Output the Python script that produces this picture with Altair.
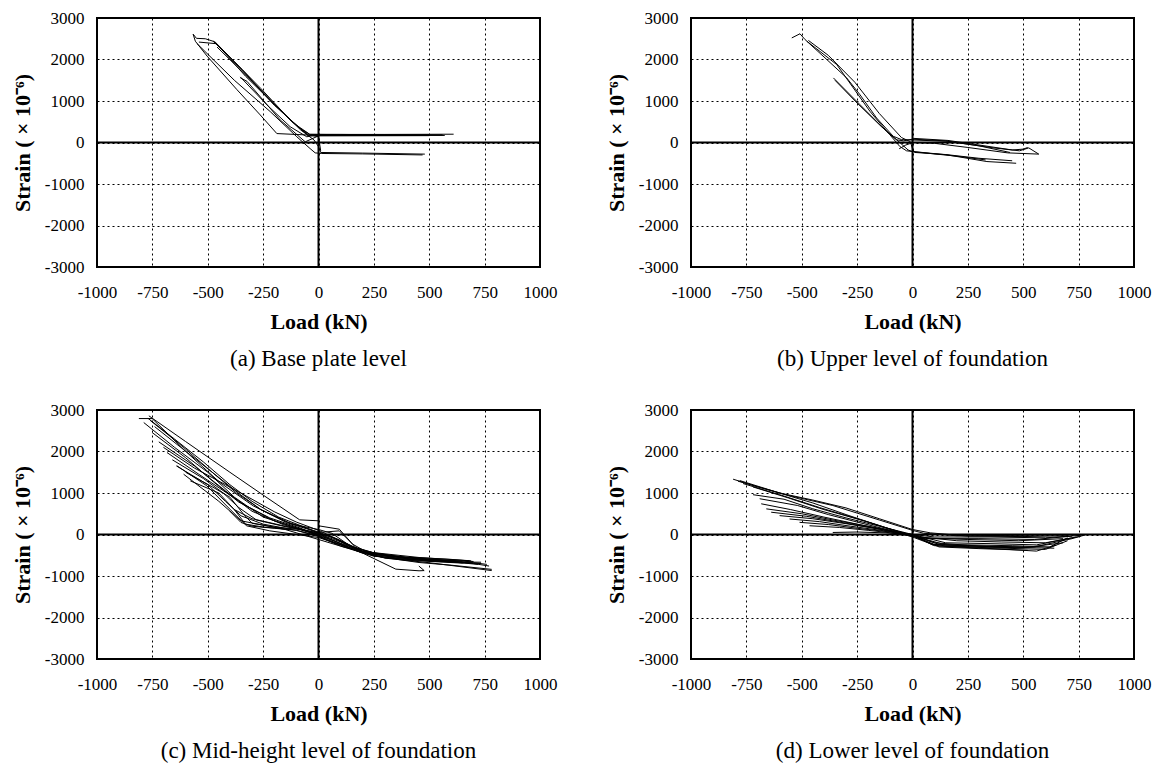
import altair as alt
import pandas as pd

# ---------------- data ----------------
X_TICKS = [-1000, -750, -500, -250, 0, 250, 500, 750, 1000]
Y_TICKS = [-3000, -2000, -1000, 0, 1000, 2000, 3000]

CAPTIONS = ["(a) Base plate level", "(b) Upper level of foundation",
            "(c) Mid-height level of foundation", "(d) Lower level of foundation"]

# Panel (a) Base plate level
A_LOAD = [
    [-566, -551, -511, -476, -428, -345, -248, -158, -83, -38, 100, 300, 500, 610],
    [570, 300, 50, -38, -188, -263, -368, -503, -556, -566],
    [-548, -380, -218, -98, -38, -15, 15, 200, 470],
    [480, 200, 10, 0, -20, -80, -200, -330, -460, -540],
    [-353, -233, -128, -53, -20, 200, 500],
    [500, 0, -60, -173, -323, -353],
    [-458, -293, -143, -50, 0, 10],
    [-470, -380, -260, -120, -40],
    [-476, -400, -300, -200, -100, -40, 200, 560],
]
A_STRAIN = [
    [2610, 2510, 2500, 2440, 2200, 1760, 1190, 705, 340, 190, 195, 195, 198, 200],
    [170, 170, 172, 178, 215, 664, 1272, 2082, 2440, 2610],
    [2380, 1500, 745, 138, -146, -250, -265, -275, -300],
    [-280, -255, -240, -100, 60, 300, 920, 1600, 2380, 2420],
    [1580, 907, 381, 138, 170, 175, 180],
    [165, 160, 16, 543, 1474, 1560],
    [2300, 1434, 624, 180, 140, -200],
    [2440, 1950, 1300, 500, 160],
    [2450, 2050, 1480, 900, 420, 200, 190, 185],
]

# Panel (b) Upper level of foundation
B_LOAD = [
    [-545, -508, -485, -387, -297, -237, -162, -87, -50, 3, 156, 366, 483, 525, 570],
    [-477, -342, -192, -102, -57, -27, 3, 156, 336, 468],
    [450, 300, 150, 10, 0, -10, -50, -150, -260, -380, -470],
    [-357, -237, -117, -72, -40, 0, 150, 300, 440],
    [570, 430, 250, 100, 3, -30, -60],
    [-350, -250, -140, -70, -20, 0, 200, 330],
    [3, 160, 300, 450, 500, 520],
]
B_STRAIN = [
    [2520, 2620, 2480, 2000, 1556, 1150, 590, 150, 70, 60, 30, -130, -200, -130, -280],
    [2440, 1878, 750, 185, -97, -200, -218, -298, -459, -500],
    [-440, -380, -290, -240, -150, 20, 120, 700, 1450, 2100, 2460],
    [1556, 911, 266, 64, 40, 80, 40, -80, -240],
    [-280, -250, -120, -20, 0, -60, -150],
    [1500, 950, 380, 60, -180, -220, -330, -420],
    [100, 50, -60, -180, -160, -120],
]

# Panel (c) Mid-height level of foundation
C_LOAD = [
    [-766, -600, -400, -250, -85, 0, 0, 94, 154, 250, 450, 700],
    [-811, -751, -594, -445, -295, -145, 0, 94, 169, 244, 454, 680],
    [734, 500, 300, 200, 100, 0, -220, -325, -400, -504, -639],
    [-789, -650, -500, -380, -250, -100, 0, 150, 300, 500, 782],
    [782, 600, 454, 244, 100, 0, -150, -350, -450, -609],
    [-751, -600, -470, -360, -220, -80, 40, 200, 349, 454, 477, 453],
    [-721, -560, -420, -300, -160, 0, 120, 244, 400, 650, 686],
    [-684, -540, -400, -330, -200, -60, 60, 200, 420, 600, 734],
    [-642, -500, -420, -350, -250, -100, 0, 100, 250, 500, 700, 770],
    [-579, -450, -380, -300, -150, 0, 80, 200, 400, 620],
    [-700, -560, -420, -300, -200, -100, 0, 100, 180],
    [-760, -620, -480, -350, -260, -120, 0, 60, 150, 350, 560],
    [-400, -350, -300, -200, -100, 0],
    [-380, -330, -250, -120],
    [-770, -650, -520, -400, -300, -180, -50, 50, 150, 300, 500, 700, 760],
    [-740, -610, -480, -370, -260, -140, 0, 120, 220, 400, 650],
    [-660, -520, -430, -360, -280, -160, -40, 60, 140, 260, 520, 720],
    [-600, -480, -400, -340, -300, -200, -80, 20, 100, 200, 380, 600, 690],
]
C_STRAIN = [
    [2860, 2240, 1500, 950, 353, 330, 210, 128, -233, -520, -600, -650],
    [2794, 2794, 1975, 1253, 691, 289, 48, 88, -313, -434, -554, -630],
    [-700, -640, -560, -450, -250, -72, 88, 209, 610, 1172, 1654],
    [2698, 2100, 1500, 900, 420, 160, 0, -330, -570, -680, -869],
    [-840, -740, -675, -514, -280, -120, 120, 330, 800, 1453],
    [2457, 1850, 1250, 780, 400, 150, -120, -450, -835, -875, -869, -760],
    [2232, 1650, 1050, 560, 240, -20, -250, -500, -620, -690, -628],
    [1975, 1450, 950, 700, 330, 100, -180, -430, -600, -660, -668],
    [1654, 1200, 800, 450, 250, 100, -50, -280, -490, -600, -700, -760],
    [1293, 1000, 600, 380, 200, 40, -100, -400, -560, -640],
    [2100, 1600, 1200, 850, 550, 300, 100, -150, -380],
    [2750, 2150, 1500, 950, 600, 250, 120, 30, -300, -580, -650],
    [560, 290, 200, 150, 100, -30],
    [600, 250, 180, 120],
    [2800, 2300, 1750, 1200, 800, 420, 150, -100, -350, -520, -600, -680, -720],
    [2600, 2050, 1500, 1000, 600, 300, 60, -200, -460, -560, -640],
    [1800, 1350, 1000, 650, 350, 200, 80, -60, -280, -470, -620, -720],
    [1500, 1150, 900, 500, 270, 180, 120, -20, -180, -420, -540, -600, -640],
]

# Panel (d) Lower level of foundation
D_LOAD = [
    [-810, -700, -550, -360, -150, 0, 50, 200, 500, 792],
    [-788, -620, -450, -300, -120, 0, 90, 300, 550, 720, 780],
    [-765, -600, -420, -250, -80, 0, 120, 350, 600, 700],
    [-720, -560, -400, -200, -60, 30, 150, 400, 560, 650],
    [-720, -580, -450, -300, -150, 0, 100, 300, 500, 680],
    [-690, -520, -380, -250, -100, 0, 90, 250, 450, 620, 700],
    [-683, -550, -400, -250, -120, 0, 150, 350, 560, 760],
    [-660, -500, -350, -200, -80, 20, 200, 400, 600, 740],
    [-638, -480, -330, -180, -60, 40, 250, 480, 680],
    [-600, -450, -300, -150, -50, 60, 300, 550, 720],
    [-555, -420, -280, -130, 0, 100, 350, 600, 760],
    [-510, -380, -250, -100, 0, 150, 400, 640],
    [-465, -330, -200, -80, 10, 120, 300, 520],
    [-360, -250, -120, 0, 100, 300, 450],
    [-780, -600, -450, -300, -150, 0, 80, 250, 500, 700],
]
D_STRAIN = [
    [1333, 1150, 930, 699, 350, 100, 30, -30, -20, 0],
    [1285, 1030, 760, 480, 160, 0, -250, -280, -300, -100, -10],
    [1228, 960, 650, 380, 100, -40, -280, -320, -360, -150],
    [1146, 880, 600, 300, 60, -80, -290, -350, -400, -250],
    [959, 850, 620, 400, 200, -20, -270, -300, -320, -200],
    [862, 700, 480, 300, 100, -60, -240, -250, -270, -300, -80],
    [740, 600, 420, 250, 100, 0, -200, -220, -250, -40],
    [618, 500, 340, 200, 80, -50, -150, -180, -200, -60],
    [537, 440, 300, 160, 50, -80, -120, -150, -100],
    [455, 380, 260, 130, 30, -100, -100, -120, -40],
    [374, 310, 200, 90, 0, -60, -60, -80, -20],
    [293, 240, 150, 60, -30, -250, -300, -330],
    [211, 170, 100, 30, -50, -300, -340, -380],
    [49, 60, 40, -10, -200, -280, -320],
    [1300, 1000, 830, 640, 380, 120, 40, -40, -50, -30],
]

PANELS = [(A_LOAD, A_STRAIN), (B_LOAD, B_STRAIN), (C_LOAD, C_STRAIN), (D_LOAD, D_STRAIN)]

SERIF = "Liberation Serif"
W, H = 443, 249


def make_panel(loads, strains, caption):
    rows = []
    for t, (xs, ys) in enumerate(zip(loads, strains)):
        for i, (xv, yv) in enumerate(zip(xs, ys)):
            rows.append({"trace": t, "idx": i, "load": xv, "strain": yv})
    df = pd.DataFrame(rows)

    x_enc = alt.X("load:Q",
                  scale=alt.Scale(domain=[-1000, 1000], nice=False, zero=False),
                  axis=alt.Axis(values=X_TICKS, title="Load (kN)",
                                labelExpr="'' + datum.value"))
    y_enc = alt.Y("strain:Q",
                  scale=alt.Scale(domain=[-3000, 3000], nice=False, zero=False),
                  axis=alt.Axis(values=Y_TICKS, title="Strain ( × 10⁻⁶)",
                                labelExpr="'' + datum.value"))

    vrule = alt.Chart(pd.DataFrame({"load": [0]})).mark_rule(
        color="black", strokeWidth=2).encode(x=x_enc)
    hrule = alt.Chart(pd.DataFrame({"strain": [0]})).mark_rule(
        color="black", strokeWidth=2).encode(y=y_enc)
    lines = alt.Chart(df).mark_line(color="black", strokeWidth=1).encode(
        x=x_enc, y=y_enc, detail="trace:N", order="idx:Q")

    return alt.layer(vrule, hrule, lines).properties(
        width=W, height=H,
        title=alt.TitleParams(caption, orient="bottom", anchor="middle",
                              font=SERIF, fontSize=23, fontWeight="normal",
                              color="black", offset=16))


charts = [make_panel(l, s, c) for (l, s), c in zip(PANELS, CAPTIONS)]

chart = alt.concat(*charts, columns=2, spacing={"row": 143, "column": 151},
                   bounds="flush").properties(
    padding={"left": 10, "top": 8, "right": 5, "bottom": 5},
    background="white"
).configure_view(
    stroke="black", strokeWidth=2
).configure_axis(
    labelFont=SERIF, labelFontSize=17, labelColor="black",
    titleFont=SERIF, titleFontSize=22, titleFontWeight="bold", titleColor="black",
    ticks=False, domain=False, grid=True, gridColor="black",
    gridDash=[2, 3], gridWidth=1, gridOpacity=1,
    labelFlush=False, labelOverlap=False
).configure_axisX(
    labelPadding=17, titlePadding=11
).configure_axisY(
    labelPadding=13, titlePadding=10
)

chart.save("out.html", embed_options={"renderer": "svg", "actions": False})
